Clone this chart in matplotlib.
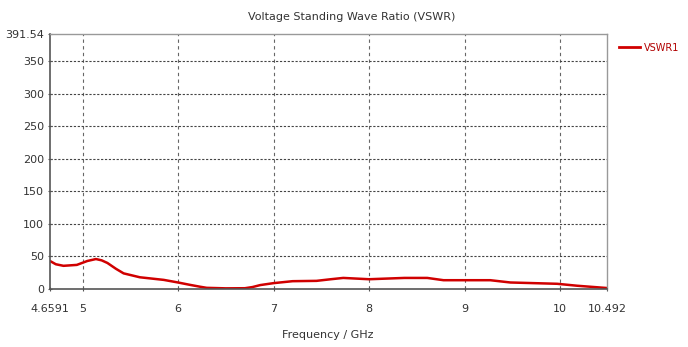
import matplotlib
matplotlib.use("Agg")
import matplotlib.pyplot as plt

freq = [4.6591, 4.72, 4.80, 4.94, 5.05, 5.14, 5.20, 5.26, 5.35, 5.43, 5.60, 5.85, 6.0, 6.12, 6.23, 6.30, 6.5,
        6.7, 6.78, 6.86, 7.0, 7.2, 7.45, 7.6, 7.73, 8.0, 8.37, 8.61, 8.78, 9.27, 9.48, 9.97, 10.18, 10.492]
vswr = [43, 38, 35.6, 37, 43, 46, 44, 40, 31, 24, 18, 14, 10, 6.5, 3.5, 1.8, 1,
        1.2, 3, 6, 9, 12, 12.5, 15, 17, 15, 17, 17, 13.5, 13.5, 10, 8, 5, 1.5]
xticks = [4.6591, 5, 6, 7, 8, 9, 10, 10.492]
xticklabels = ["4.6591", "5", "6", "7", "8", "9", "10", "10.492"]
yticks = [0, 50, 100, 150, 200, 250, 300, 350, 391.54]
yticklabels = ["0", "50", "100", "150", "200", "250", "300", "350", "391.54"]

plt.rcParams['font.family'] = ['DejaVu Sans']

fig = plt.figure(figsize=(6.88, 3.47), dpi=100)
ax = fig.add_axes([50/688, 1-289/347, (607-50)/688, (289-34)/347])

ax.plot(freq, vswr, color='#d00000', lw=1.8)
ax.set_xlim(4.6591, 10.492)
ax.set_ylim(0, 391.54)
ax.set_xticks(xticks)
ax.set_xticklabels(xticklabels)
ax.set_yticks(yticks)
ax.set_yticklabels(yticklabels)
ax.tick_params(labelsize=8, length=3, direction='inout', color='#555555', labelcolor='#333333')
ax.tick_params(axis='x', pad=9)
ax.tick_params(axis='y', pad=3)

for x in [5, 6, 7, 8, 9, 10]:
    ax.axvline(x, color='#666666', lw=0.8, ls=(0, (3, 3)), zorder=0)
for y in [50, 100, 150, 200, 250, 300, 350]:
    ax.axhline(y, color='#444444', lw=0.8, ls=(0, (2, 1.5)), zorder=0)

for s in ['left', 'bottom']:
    ax.spines[s].set_color('#555555')
    ax.spines[s].set_linewidth(1.2)
for s in ['top', 'right']:
    ax.spines[s].set_color('#999999')
    ax.spines[s].set_linewidth(1.0)

fig.text(352/688, 1-17/347, "Voltage Standing Wave Ratio (VSWR)", ha='center', va='center',
         fontsize=8, color='#333333')
fig.text(328/688, 1-335/347, "Frequency / GHz", ha='center', va='center',
         fontsize=8, color='#333333')

fig.add_artist(matplotlib.lines.Line2D([619/688, 640/688], [1-47/347, 1-47/347],
                                       color='#d00000', lw=2))
fig.text(644/688, 1-48/347, "VSWR1", ha='left', va='center', fontsize=7, color='#b00000')

fig.savefig("out.png", dpi=100)
